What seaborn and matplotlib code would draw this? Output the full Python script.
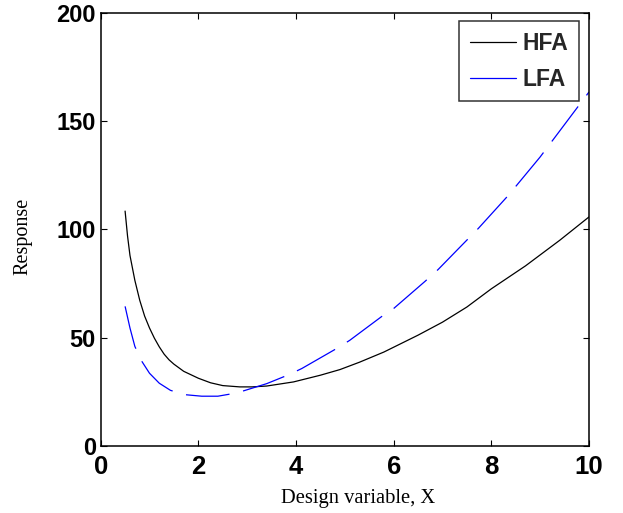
import numpy as np
import pandas as pd
import matplotlib
matplotlib.use("Agg")
import matplotlib.pyplot as plt
import seaborn as sns

# Values
hfa_x = [0.5, 0.55, 0.6, 0.7, 0.8, 0.9, 1.0, 1.1, 1.2, 1.3, 1.4, 1.5, 1.7, 2.0, 2.25,
         2.5, 2.85, 3.1, 3.4, 3.95, 4.5, 4.9, 5.3, 5.8, 6.5, 7.0, 7.5, 8.0, 8.7, 9.4, 10.0]
hfa_y = [108.5, 97.0, 88.0, 76.5, 67.3, 60.0, 54.5, 49.8, 45.8, 42.4, 39.8, 37.8, 34.5,
         31.3, 29.2, 27.9, 27.3, 27.3, 27.7, 29.6, 32.7, 35.3, 38.7, 43.4, 51.2, 57.2,
         64.2, 72.6, 83.2, 95.0, 105.8]
lfa_x = [0.5, 0.6, 0.7, 0.84, 1.0, 1.2, 1.43, 1.73, 2.07, 2.4, 2.63, 2.93, 3.4, 3.86,
         4.12, 4.83, 5.1, 5.79, 6.0, 6.64, 6.91, 7.36, 7.73, 8.35, 9.0, 9.65, 10.0]
lfa_y = [64.5, 54.5, 46.0, 39.2, 33.6, 29.0, 25.7, 23.7, 23.0, 23.0, 23.9, 25.5, 28.8,
         33.0, 35.8, 45.0, 48.8, 60.4, 63.5, 76.0, 81.5, 91.9, 100.4, 115.8, 133.5,
         153.0, 163.5]
series_names = ["HFA", "LFA"]
x_ticks = [0, 2, 4, 6, 8, 10]
y_ticks = [0, 50, 100, 150, 200]

df = pd.DataFrame({
    "x": hfa_x + lfa_x,
    "y": hfa_y + lfa_y,
    "series": [series_names[0]] * len(hfa_x) + [series_names[1]] * len(lfa_x),
})

sns.set_theme(style="white")
plt.rcParams["lines.scale_dashes"] = False
plt.rcParams["font.family"] = ["Liberation Sans", "DejaVu Sans"]

fig = plt.figure(figsize=(6.23, 5.13), dpi=100)
ax = fig.add_axes([0.1616, 0.1306, 0.7838, 0.8441])

sns.lineplot(data=df, x="x", y="y", hue="series", style="series",
             palette={"HFA": "black", "LFA": "#0000ff"},
             dashes={"HFA": "", "LFA": (31.5, 10.0)},
             linewidth=0.9, ax=ax, legend=True, sort=True)

ax.set_xlim(0, 10)
ax.set_ylim(0, 200)
ax.set_xticks(x_ticks)
ax.set_yticks(y_ticks)
ax.set_xticklabels([str(t) for t in x_ticks], fontweight="bold", fontsize=18.5)
ax.set_yticklabels([str(t) for t in y_ticks], fontweight="bold", fontsize=17)
ax.tick_params(direction="in", length=4, width=0.8, top=True, right=True,
               bottom=True, left=True, colors="black")
ax.tick_params(axis="x", pad=6.5)
ax.tick_params(axis="y", pad=3.5)
for s in ax.spines.values():
    s.set_visible(True)
    s.set_color("black")
    s.set_linewidth(1.1)

ax.set_xlabel("Design variable, X", family="Liberation Serif", fontsize=14.8, color="black")
ax.set_ylabel("Response", family="Liberation Serif", fontsize=14.5, color="black")
ax.xaxis.set_label_coords(0.528, -0.1)
ax.yaxis.set_label_coords(-0.14, 0.483)

handles, labels = ax.get_legend_handles_labels()
leg = ax.legend(handles, labels, loc="upper right", bbox_to_anchor=(0.9795, 0.9815),
                borderaxespad=0, frameon=True, fancybox=False, edgecolor="black",
                prop={"weight": "bold", "size": 16.5, "family": "Liberation Sans"},
                handlelength=2.0, handletextpad=0.3, labelspacing=0.57,
                borderpad=0.46)
leg.get_frame().set_linewidth(1.1)
for line in leg.get_lines():
    line.set_linestyle("-")
    line.set_linewidth(0.9)

fig.savefig("out.png", dpi=100, facecolor="white")
